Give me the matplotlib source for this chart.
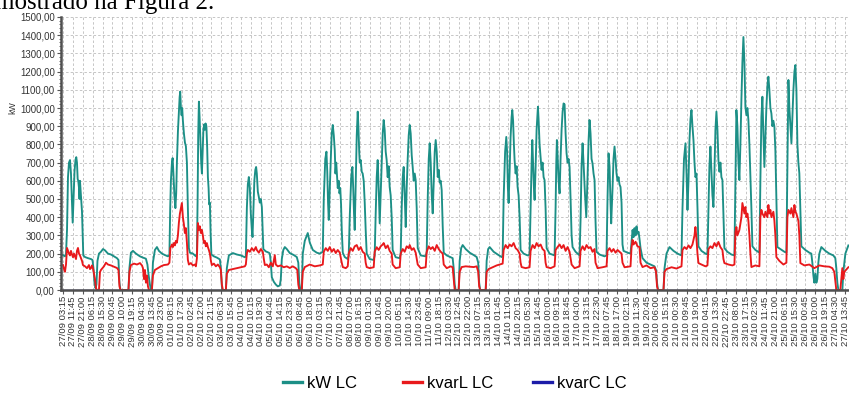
import matplotlib
matplotlib.use("Agg")
import matplotlib.pyplot as plt
from matplotlib.lines import Line2D
from matplotlib.ticker import FixedLocator, FuncFormatter, MultipleLocator

# ---------------- data (hours since 27/09 00:00) ----------------
kw_hours = [3.25, 5.1, 6.05, 7.0, 7.9, 8.85, 9.8, 10.7, 11.65, 12.3, 13.05, 14.0, 14.9, 15.65, 16.3, 16.95, 17.5, 18.2, 18.65, 19.1,
            19.8, 20.35, 21.0, 21.65, 22.2, 23.8, 26.6, 29.4, 30.8, 31.7, 32.65, 33.6, 34.5, 35.45, 36.85, 38.7, 40.6, 42.45, 45.25, 48.05,
            50.85, 53.65, 55.05, 56.0, 56.9, 64.4, 65.3, 66.7, 68.6, 71.4, 75.1, 77.9, 80.7, 82.1, 83.05, 84.45, 85.4, 86.3, 87.25, 89.1,
            91.0, 92.85, 95.65, 98.45, 101.25, 102.65, 103.4, 104.05, 105.0, 105.65, 106.4, 107.3, 108.25, 109.0, 109.65, 110.6, 111.5, 112.2, 112.75, 113.4,
            114.05, 114.6, 115.25, 116.2, 117.15, 118.05, 119.0, 119.9, 120.85, 121.8, 124.6, 127.4, 128.35, 129.0, 129.55, 130.2, 130.85, 131.6, 132.35, 133.0,
            133.65, 134.4, 135.15, 135.8, 136.45, 137.2, 137.95, 138.6, 139.25, 139.8, 140.45, 141.1, 141.85, 144.2, 147.0, 149.8, 150.7, 151.65, 152.1, 155.4,
            156.3, 158.2, 161.9, 165.65, 169.4, 173.1, 174.05, 175.0, 175.9, 176.85, 177.8, 178.7, 179.65, 180.3, 181.05, 182.0, 182.9, 183.65, 184.3, 185.25,
            186.2, 187.1, 188.05, 189.0, 189.6, 190.4, 192.7, 195.5, 196.45, 197.4, 198.3, 200.2, 202.05, 203.9, 205.8, 206.7, 207.65, 209.05, 210.45, 212.3,
            215.1, 218.85, 221.65, 223.05, 224.0, 224.9, 226.3, 227.25, 229.1, 231.0, 231.9, 233.8, 236.6, 240.3, 243.1, 245.9,
            246.85, 248.25, 249.35, 250.1, 250.85, 251.5, 252.45, 253.4, 254.3, 255.25, 256.2, 257.1, 257.75, 258.5, 259.25, 259.9, 260.85, 261.5, 262.25, 263.0,
            263.65, 264.6, 266.45, 269.25,
            270.15, 271.1, 272.5, 273.6, 274.35, 275.1, 275.75, 276.7, 277.65, 278.55, 279.2, 279.95, 280.45, 281.35, 282.3, 283.2, 284.15, 285.1, 286.0, 286.95,
            289.75, 293.5,
            294.4, 295.35, 296.3, 297.2, 298.15, 299.1, 300.0, 300.95, 301.9, 302.8, 303.75, 304.7, 305.6, 306.55, 307.5, 308.4, 309.35, 310.3, 311.2, 314.0, 317.8,
            318.7, 319.65, 320.6, 321.5, 322.45, 323.4, 324.3, 325.25, 326.2, 327.1, 328.05, 329.0, 329.9, 330.85, 331.8, 332.7, 333.65, 334.6, 337.4, 342.05,
            343.0, 343.95, 344.9, 345.8, 346.75, 347.7, 348.6, 349.55, 350.5, 351.4, 352.35, 353.3, 354.2, 355.15, 356.1, 357.0, 357.95, 358.9, 361.7, 365.4,
            367.25, 368.2, 369.15, 370.05, 372.85, 373.8, 375.2, 376.6, 379.4, 383.15, 386.9, 389.7, 391.1, 392.0, 392.95, 398.1, 399.0, 400.4, 401.8, 405.55,
            409.3, 413.0, 413.95,
            414.85, 416.25, 417.35, 418.1, 418.85, 419.5, 420.45, 421.35, 422.3, 422.95, 423.7, 424.45, 425.1, 426.05, 427.0, 427.9, 428.85, 429.8, 430.7, 433.5,
            437.25, 439.1,
            440.05, 441.0, 441.65, 442.4, 443.15, 443.8, 444.75, 445.65, 446.9, 447.5, 448.45, 449.4, 450.3, 451.25, 452.2, 453.1, 454.05, 455.0, 457.8, 462.45,
            463.4, 464.05, 464.6, 465.25, 466.2, 467.15, 468.05, 469.0, 469.95, 470.85, 471.8, 472.75, 473.65, 474.6, 475.55, 476.45, 477.4, 478.35, 479.25, 482.05,
            485.8,
            486.7, 487.65, 488.6, 489.5, 490.9, 492.05, 493.25, 494.2, 495.1, 496.05, 497.0, 497.9, 498.85, 499.8, 500.7, 501.65, 504.45, 509.1, 511.0,
            511.9, 512.85, 513.8, 514.7, 515.35, 516.6, 517.5, 518.45, 519.4, 520.3, 521.25, 522.2, 523.1, 524.05, 525.0, 525.9, 526.85, 530.6, 533.4,
            534.3, 535.3, 536.2, 537.1, 538.1, 539.0, 539.9, 540.9, 541.8, 542.75, 544.6, 548.35, 552.05, 555.8, 557.2, 558.15, 559.05, 564.2, 565.15, 567.0,
            569.8, 573.55, 577.3, 581.0,
            581.95, 583.35, 584.75, 585.7, 586.6, 587.55, 588.45, 589.4, 590.35, 591.25, 592.2, 593.15, 594.05, 595.0, 595.95, 596.85, 599.65, 603.4, 605.25,
            606.2, 607.1, 608.05, 609.0, 609.9, 610.85, 611.8, 612.7, 613.65, 614.6, 615.5, 616.45, 617.4, 618.3, 619.25, 620.2, 621.1, 623.9, 627.65, 630.45,
            631.4, 632.3, 633.25, 634.2, 635.1, 636.05, 637.0, 637.9, 638.85, 639.8, 640.7, 641.65, 642.6, 643.5, 644.45, 645.4, 646.3, 647.25, 650.05, 653.8,
            654.7, 655.65, 656.6, 657.5, 658.45, 659.4, 660.3, 661.25, 662.2, 663.1, 664.05, 665.0, 665.9, 666.85, 667.8, 668.7, 669.65, 670.6, 673.4, 677.15,
            679.0,
            679.95, 680.9, 681.8, 682.75, 683.7, 684.6, 685.55, 686.5, 687.4, 688.35, 689.3, 690.2, 691.1, 692.05, 693.0, 696.7, 700.45, 702.3, 703.25, 704.2,
            705.1, 706.05, 707.0, 707.9, 708.85, 709.8, 711.65, 715.4, 719.1, 722.85, 724.7, 725.65, 726.6, 727.55, 731.3, 732.2, 734.1, 736.9]

kw_values = [192, 185, 200, 330, 620, 700, 714, 640, 480, 370, 500, 650, 715, 730, 700, 610, 600, 560, 500, 600,
             540, 500, 430, 300, 190, 181, 175, 170, 165, 120, 40, 10, 30, 160, 200, 210, 225, 218, 200, 195,
             185, 175, 165, 40, 0, 0, 120, 205, 215, 200, 185, 178, 172, 140, 90, 30, 0, 0, 150, 220,
             236, 215, 200, 192, 185, 190, 450, 600, 700, 725, 640, 520, 450, 533, 700, 870, 980, 1060, 1090, 1000,
             960, 1000, 930, 860, 810, 790, 700, 450, 230, 205, 200, 185, 200, 500, 850, 1035, 950, 820, 700, 640,
             760, 880, 910, 880, 915, 900, 780, 620, 560, 470, 480, 320, 195, 185, 178, 168, 120, 20, 0, 0,
             120, 190, 203, 195, 190, 180, 185, 450, 580, 621, 560, 420, 330, 291, 420, 600, 660, 676, 640, 540,
             511, 480, 500, 456, 350, 225, 212, 205, 200, 150, 70, 45, 30, 20, 25, 60, 170, 220, 236, 225,
             203, 192, 181, 150, 40, 0, 0, 200, 270, 300, 313, 260, 220, 205, 200, 210,
             500, 720, 760, 650, 480, 385, 560, 720, 860, 907, 850, 770, 640, 700, 620, 560, 600, 531, 560, 470,
             330, 205, 181, 170,
             190, 400, 620, 676, 560, 420, 330, 600, 850, 980, 900, 760, 700, 714, 650, 640, 600, 480, 330, 200,
             170, 165,
             190, 420, 620, 714, 560, 366, 520, 700, 860, 934, 880, 760, 714, 620, 680, 566, 520, 400, 220, 180, 175,
             200, 450, 620, 676, 520, 346, 560, 720, 850, 907, 860, 740, 676, 600, 640, 604, 450, 230, 190, 185,
             210, 500, 720, 806, 700, 520, 421, 600, 760, 824, 760, 621, 660, 590, 600, 549, 350, 205, 190, 180,
             175, 120, 30, 0, 0, 160, 230, 247, 225, 205, 192, 181, 150, 40, 0, 0, 160, 225, 236, 210,
             195, 181, 190,
             500, 760, 841, 760, 560, 478, 650, 840, 950, 989, 930, 800, 714, 640, 680, 566, 520, 400, 220, 200,
             190, 195,
             450, 700, 824, 700, 560, 495, 680, 880, 1007, 940, 800, 731, 660, 700, 620, 604, 450, 230, 200, 190,
             450, 700, 824, 740, 600, 531, 720, 880, 980, 1025, 1020, 860, 751, 700, 720, 676, 500, 300, 236, 210,
             190,
             380, 680, 806, 700, 520, 400, 620, 820, 934, 860, 720, 696, 640, 604, 380, 210, 195, 185, 190,
             500, 751, 680, 480, 366, 560, 720, 788, 720, 641, 600, 620, 580, 566, 480, 250, 215, 205, 200,
             260, 330, 290, 340, 300, 350, 310, 320, 280, 230, 175, 150, 140, 130, 110, 40, 0, 0, 120, 200,
             236, 215, 200, 190,
             450, 720, 806, 640, 440, 600, 820, 940, 989, 900, 824, 700, 620, 640, 450, 240, 215, 200, 195,
             450, 680, 788, 650, 520, 456, 650, 880, 980, 880, 714, 650, 700, 620, 604, 420, 230, 210, 195, 190,
             600, 989, 900, 700, 604, 800, 1050, 1250, 1390, 1250, 1007, 960, 1000, 934, 800, 620, 450, 240, 220, 205,
             600, 950, 1062, 860, 676, 850, 1000, 1120, 1172, 1100, 1000, 970, 900, 930, 897, 769, 500, 236, 225, 210,
             205,
             700, 1154, 1000, 900, 806, 950, 1100, 1200, 1236, 1100, 800, 700, 641, 450, 240, 220, 205, 200, 150, 80,
             40, 90, 40, 60, 150, 200, 236, 215, 200, 190, 175, 120, 40, 0, 0, 100, 200, 245]

kvarl_hours = [3.25, 4.2, 5.1, 6.05, 7.0, 7.9, 8.85, 9.8, 10.7, 11.65, 12.6, 13.5, 14.45, 15.4, 16.3, 17.25, 18.2, 19.1, 20.05, 21.0,
               21.9, 23.8, 25.65, 27.5, 28.45, 29.4, 30.3, 31.25, 32.2, 33.1, 34.05, 35.0, 36.85, 37.8, 38.7, 41.5, 43.4, 45.25, 48.05, 50.85,
               53.65, 55.05, 56.0, 56.9, 64.4, 65.3, 66.7, 69.55, 72.35, 75.15, 77.0, 77.95, 78.9, 79.8, 80.75, 81.7, 82.6, 83.55, 86.3, 87.25,
               89.1, 91.9, 94.7, 97.5, 101.25, 102.65, 103.55, 105.0, 105.9, 106.85, 107.8, 108.7, 109.65, 110.6, 111.5, 112.45, 113.4, 114.3, 115.25, 116.2,
               117.1, 118.05, 119.0, 119.9, 120.85, 122.7, 124.6, 126.45, 127.4, 128.35, 129.25, 130.2, 131.1, 132.05, 133.0, 133.9, 134.85, 135.8, 136.7, 137.65,
               138.6, 139.5, 140.45, 141.4, 142.3, 144.2, 146.05, 147.9, 149.8, 150.7, 151.65, 152.6, 155.4, 156.3, 158.2, 161.9, 165.65, 169.4, 173.1, 174.05,
               175.0, 175.9, 177.8, 179.65, 181.5, 183.4, 184.3, 186.2, 188.05, 189.9, 190.85, 191.8, 193.65, 195.5, 197.4, 199.25, 201.1, 202.05, 203.9, 206.7,
               209.5, 212.3, 215.1, 217.9, 220.7, 222.1, 223.05, 224.0, 226.3, 227.25, 229.1, 233.8, 238.45, 243.1, 245.9,
               246.85, 248.7, 250.6, 252.45, 254.3, 256.2, 258.05, 259.9, 261.8, 263.65, 264.6, 267.4, 269.25,
               270.15, 272.05, 273.9, 275.75, 277.65, 279.5, 281.35, 283.2, 285.1, 286.0, 286.95, 289.75, 293.5,
               294.4, 296.3, 298.15, 300.0, 301.9, 302.8, 304.7, 306.55, 308.4, 310.3, 311.2, 314.0, 317.8,
               318.7, 320.6, 322.45, 324.3, 326.2, 327.1, 329.0, 330.85, 332.7, 334.6, 337.4, 342.05,
               343.0, 344.9, 346.75, 348.6, 350.5, 352.35, 354.2, 356.1, 357.95, 358.9, 361.7, 365.4, 367.25, 368.2, 369.15, 372.85, 373.8, 375.65, 379.4, 383.15,
               386.9, 389.7, 391.1, 392.0, 392.95, 398.1, 399.0, 400.85, 404.6, 408.35, 411.1, 413.95,
               414.85, 416.7, 418.6, 420.45, 422.3, 424.2, 426.05, 427.9, 429.8, 430.7, 431.65, 435.4, 439.1,
               440.05, 441.9, 443.8, 445.65, 447.5, 449.4, 451.25, 453.1, 454.05, 455.0, 458.75, 462.45,
               463.4, 465.25, 467.15, 469.0, 470.85, 472.75, 474.6, 476.45, 478.35, 481.15, 485.8,
               486.7, 488.6, 490.45, 492.3, 494.2, 496.05, 497.9, 499.8, 500.7, 502.6, 507.25, 511.0,
               511.9, 513.8, 515.65, 517.5, 519.4, 521.25, 523.1, 525.0, 525.9, 527.8, 533.4,
               534.3, 535.3, 536.2, 538.1, 539.9, 541.8, 542.75, 544.6, 548.35, 552.05, 555.8, 557.2, 558.15, 559.05, 564.2, 565.15, 567.0, 571.7, 576.35, 581.0,
               581.95, 583.8, 585.7, 587.55, 589.4, 591.25, 593.15, 594.05, 595.0, 595.95, 596.85, 599.65, 603.4, 605.25,
               606.2, 608.05, 609.9, 611.8, 613.65, 615.5, 617.4, 619.25, 620.2, 621.1, 624.85, 628.6, 630.45,
               631.4, 632.3, 633.25, 635.1, 637.0, 637.9, 638.85, 639.8, 640.7, 641.65, 642.6, 643.5, 644.45, 645.4, 646.3, 650.05, 653.8,
               654.7, 655.65, 656.6, 658.45, 659.4, 661.25, 662.2, 663.1, 664.05, 665.0, 666.85, 667.8, 668.7, 669.65, 672.45, 676.2, 679.0,
               679.95, 680.9, 682.75, 683.7, 685.55, 686.5, 687.4, 688.35, 690.2, 691.1, 692.05, 695.8, 700.45, 705.1, 709.8, 714.45, 719.1, 721.9, 723.75, 724.7,
               725.65, 729.4, 730.3, 731.25, 732.2, 733.1, 736.9]

kvarl_values = [137, 115, 100, 140, 231, 215, 200, 190, 215, 195, 180, 200, 185, 170, 215, 231, 200, 190, 175, 160,
                137, 130, 120, 137, 115, 120, 135, 120, 90, 60, 10, 0, 0, 99, 110, 130, 150, 140, 135, 128,
                121, 110, 20, 0, 0, 100, 137, 145, 140, 148, 135, 120, 60, 110, 40, 80, 20, 0, 0, 80,
                110, 120, 130, 137, 140, 150, 231, 250, 236, 258, 245, 270, 260, 300, 370, 420, 450, 478, 400, 360,
                313, 340, 260, 165, 140, 148, 135, 140, 130, 175, 368, 330, 350, 313, 330, 300, 258, 270, 240, 258,
                236, 220, 200, 160, 137, 145, 130, 140, 125, 110, 30, 0, 0, 90, 110, 115, 120, 125, 130, 140,
                200, 220, 210, 230, 215, 236, 220, 205, 225, 210, 170, 137, 140, 125, 150, 130, 192, 140, 130, 135,
                125, 130, 121, 130, 120, 110, 30, 0, 0, 100, 126, 140, 130, 135, 140,
                210, 230, 215, 236, 210, 225, 203, 220, 205, 150, 126, 120, 130,
                200, 230, 215, 240, 247, 220, 236, 210, 200, 150, 126, 120, 125,
                210, 235, 220, 240, 250, 258, 230, 245, 215, 200, 140, 120, 125,
                200, 225, 210, 240, 230, 247, 220, 230, 205, 140, 120, 125,
                210, 240, 225, 236, 215, 247, 225, 210, 200, 140, 120, 130, 125, 60, 0, 0, 100, 126, 130, 128,
                126, 130, 100, 20, 0, 0, 100, 115, 125, 135, 140, 145,
                220, 247, 230, 250, 240, 258, 230, 220, 200, 150, 126, 120, 125,
                215, 247, 230, 258, 240, 250, 225, 215, 150, 126, 120, 130,
                220, 236, 250, 230, 247, 215, 236, 210, 140, 120, 130,
                215, 240, 220, 247, 230, 236, 210, 225, 150, 120, 125, 130,
                215, 230, 210, 225, 205, 220, 210, 200, 150, 125, 130,
                230, 275, 250, 265, 240, 236, 150, 126, 135, 120, 125, 100, 20, 0, 0, 100, 115, 125, 118, 130,
                220, 236, 225, 245, 230, 250, 300, 346, 280, 200, 148, 140, 130, 135,
                225, 240, 230, 258, 240, 264, 235, 220, 170, 148, 140, 135, 140,
                320, 346, 300, 330, 400, 478, 450, 420, 456, 400, 420, 380, 300, 200, 126, 135, 130,
                400, 440, 420, 400, 430, 400, 467, 420, 440, 400, 430, 380, 300, 181, 160, 140, 150,
                400, 440, 420, 450, 400, 467, 430, 420, 380, 300, 148, 135, 140, 120, 135, 130, 128, 120, 100, 50,
                0, 0, 60, 120, 60, 100, 125]

kvarc_hours = [3.25, 736.9]
kvarc_values = [0, 0]

tick_labels = ["27/09 03:15", "27/09 11:45", "27/09 21:00", "28/09 06:15", "28/09 15:30", "29/09 00:45", "29/09 10:00", "29/09 19:15",
               "30/09 04:30", "30/09 13:45", "30/09 23:00", "01/10 08:15", "01/10 17:30", "02/10 02:45", "02/10 12:00", "02/10 21:15",
               "03/10 06:30", "03/10 15:45", "04/10 01:00", "04/10 10:15", "04/10 19:30", "05/10 04:45", "05/10 14:15", "05/10 23:30",
               "06/10 08:45", "06/10 18:00", "07/10 03:15", "07/10 12:30", "07/10 21:45", "08/10 07:00", "08/10 16:15", "09/10 01:30",
               "09/10 10:45", "09/10 20:00", "10/10 05:15", "10/10 14:30", "10/10 23:45", "11/10 09:00", "11/10 18:15", "12/10 03:30",
               "12/10 12:45", "12/10 22:00", "13/10 07:15", "13/10 16:30", "14/10 01:45", "14/10 11:00", "14/10 20:15", "15/10 05:30",
               "15/10 14:45", "16/10 00:00", "16/10 09:15", "16/10 18:45", "17/10 04:00", "17/10 13:15", "17/10 22:30", "18/10 07:45",
               "18/10 17:00", "19/10 02:15", "19/10 11:30", "19/10 20:45", "20/10 06:00", "20/10 15:15", "21/10 00:30", "21/10 09:45",
               "21/10 19:00", "22/10 04:15", "22/10 13:30", "22/10 22:45", "23/10 08:00", "23/10 17:15", "24/10 02:30", "24/10 11:45",
               "24/10 21:00", "25/10 06:15", "25/10 15:30", "26/10 00:45", "26/10 10:00", "26/10 19:15", "27/10 04:30", "27/10 13:45"]

series_names = ["kW LC", "kvarL LC", "kvarC LC"]

# ---------------- figure ----------------
W, H = 849, 394
fig = plt.figure(figsize=(W / 100, H / 100), dpi=100)
fig.patch.set_facecolor("white")

def label_hours(s):
    date, clock = s.split()
    d, m = date.split("/")
    hh, mm = clock.split(":")
    day = int(d) - 27 if m == "09" else int(d) + 3
    return day * 24 + int(hh) + int(mm) / 60

first_t = label_hours(tick_labels[0])
last_t = label_hours(tick_labels[-1])
n = len(tick_labels)
step = (last_t - first_t) / (n - 1)
tick_pos = [first_t + i * step for i in range(n)]   # evenly spaced, as in the source software

left_px, right_px, top_px, bottom_px = 61, 849, 17, 290
ax = fig.add_axes([left_px / W, 1 - bottom_px / H, (right_px - left_px) / W, (bottom_px - top_px) / H])

teal = "#1c8f86"
red = "#e8191c"
blue = "#1c1ca8"

ax.plot(kvarc_hours, kvarc_values, color=blue, lw=1.0, zorder=1)
ax.plot(kw_hours, kw_values, color=teal, lw=1.35, zorder=3, solid_joinstyle="round")
ax.plot(kvarl_hours, kvarl_values, color=red, lw=1.35, zorder=4, solid_joinstyle="round")

px_per_h = (845.0 - 63) / (last_t - first_t)
ax.set_xlim(first_t - (63 - left_px) / px_per_h, first_t + (right_px - 63) / px_per_h)
ax.set_ylim(0, 1500)

ax.xaxis.set_major_locator(FixedLocator(tick_pos))
ax.set_xticklabels(tick_labels, rotation=90, fontsize=6.8, color="#333333", family="Liberation Sans")
ax.yaxis.set_major_locator(MultipleLocator(100))
ax.yaxis.set_minor_locator(MultipleLocator(20))
ax.yaxis.set_major_formatter(FuncFormatter(lambda v, p: f"{v:.2f}".replace(".", ",")))
for lbl in ax.get_yticklabels():
    lbl.set_fontsize(6.9)
    lbl.set_family("Liberation Sans")
    lbl.set_color("#333333")

ax.tick_params(axis="both", which="major", length=3, width=0.8, color="#555555", pad=1.5)
ax.tick_params(axis="y", which="minor", length=1.5, width=0.6, color="#555555")

ax.grid(True, which="major", axis="both", color="#bdbdbd", lw=0.6, linestyle=(0, (3, 2.5)))
ax.set_axisbelow(True)

for s in ["top", "right"]:
    ax.spines[s].set_visible(False)
for s in ["left", "bottom"]:
    ax.spines[s].set_color("#505050")
    ax.spines[s].set_linewidth(1.8)
    ax.spines[s].set_zorder(5)

fig.text(13 / W, 1 - 108 / H, "kW", rotation=90, fontsize=6.3, family="Liberation Sans",
         color="#333333", ha="center", va="center")

# page text above the chart (cropped by the page edge, as in the source)
fig.text(-5 / W, 1 - 9 / H, "mostrado na Figura 2.", fontsize=18, family="Liberation Serif",
         color="black", ha="left", va="baseline")

# legend: three separate entries placed like the original
colors = [teal, red, blue]
starts = [283, 403, 533]
for name, c, x0 in zip(series_names, colors, starts):
    h = Line2D([], [], color=c, lw=2.4)
    fig.legend([h], [name], loc="center left", bbox_to_anchor=(x0 / W, 1 - 383 / H),
               frameon=False, handlelength=1.15, handletextpad=0.3,
               borderpad=0, borderaxespad=0, prop={"family": "Liberation Sans", "size": 12})

fig.savefig("out.png", dpi=100, facecolor="white")
